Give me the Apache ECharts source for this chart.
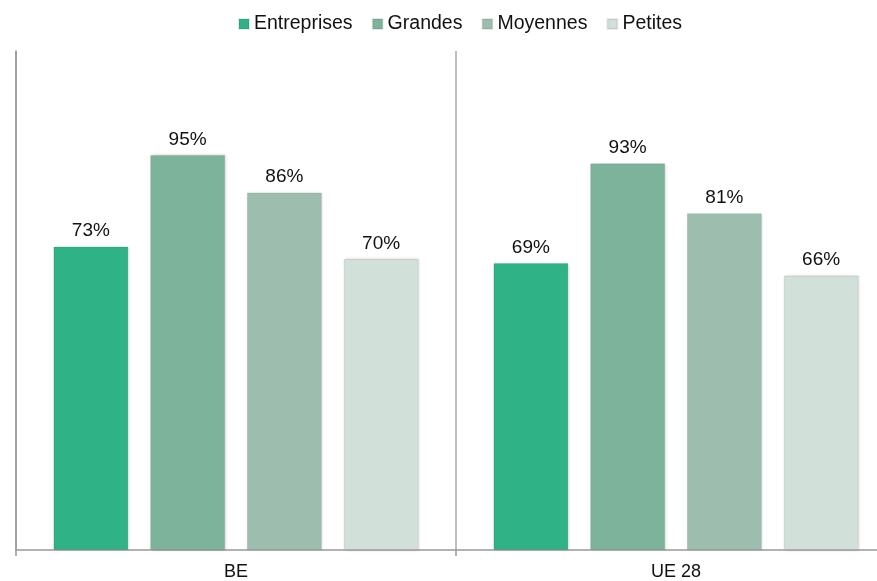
<!DOCTYPE html>
<html>
<head>
<meta charset="utf-8">
<script src="https://cdn.jsdelivr.net/npm/echarts@6/dist/echarts.min.js"></script>
<style>
  html, body { margin: 0; padding: 0; background: #fff; overflow: hidden; }
  /* the drawing area runs slightly past the right edge of the page */
  #chart { width: 896px; height: 581px; }
</style>
</head>
<body>
<div id="chart"></div>
<script>
// Share of enterprises (%) by size class, Belgium vs EU-28
const categories = ['BE', 'UE 28'];
const seriesNames = ['Entreprises', 'Grandes', 'Moyennes', 'Petites'];
const entreprises = [73, 69];
const grandes = [95, 93];
const moyennes = [86, 81];
const petites = [70, 66];
const colors = ['#2fb286', '#7cb39a', '#9dbeae', '#d2e0da'];

const values = [entreprises, grandes, moyennes, petites];
const font = '"Liberation Sans", Arial, sans-serif';

const chart = echarts.init(document.getElementById('chart'), null, { renderer: 'canvas' });

chart.setOption({
  animation: false,
  textStyle: { fontFamily: font },
  legend: {
    top: 9,
    left: 233,
    icon: 'rect',
    itemWidth: 10,
    itemHeight: 10,
    itemGap: 19,
    textStyle: { fontSize: 19.5, color: '#111', fontFamily: font },
    data: seriesNames
  },
  grid: { left: 16, right: 0, top: 51, bottom: 31, containLabel: false },
  xAxis: {
    type: 'category',
    data: categories,
    axisLine: { show: true, lineStyle: { color: '#999', width: 1.5 } },
    axisTick: { show: true, length: 6, lineStyle: { color: '#999', width: 1.5 } },
    splitLine: { show: true, lineStyle: { color: '#aaa', width: 1.5 } },
    axisLabel: { fontSize: 18, color: '#111', margin: 13, fontFamily: font }
  },
  yAxis: {
    type: 'value',
    min: 0,
    max: 120,
    axisLine: { show: true, lineStyle: { color: '#999', width: 1.5 } },
    axisTick: { show: false },
    axisLabel: { show: false },
    splitLine: { show: false }
  },
  series: seriesNames.map((name, i) => ({
    name: name,
    type: 'bar',
    data: values[i],
    barWidth: 75,
    barGap: '29%',
    itemStyle: {
      color: colors[i],
      borderColor: 'rgba(0,0,0,0.08)',
      borderWidth: 1,
      shadowColor: 'rgba(0,0,0,0.18)',
      shadowBlur: 3,
      shadowOffsetX: 1
    },
    label: {
      show: true,
      position: 'top',
      distance: 6,
      formatter: '{c}%',
      fontSize: 19,
      color: '#111',
      fontFamily: font
    }
  }))
});
</script>
</body>
</html>
